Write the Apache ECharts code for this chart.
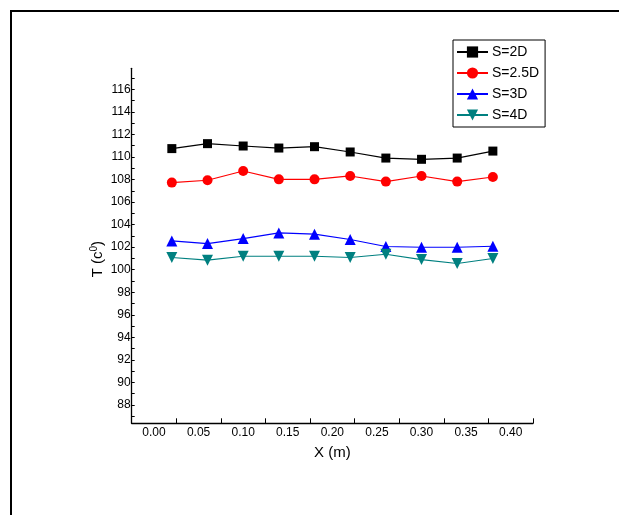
<!DOCTYPE html>
<html>
<head>
<meta charset="utf-8">
<script src="https://cdn.jsdelivr.net/npm/echarts@6/dist/echarts.min.js"></script>
<style>
  html, body { margin: 0; padding: 0; background: #fff; }
  #chart { width: 619px; height: 515px; }
</style>
</head>
<body>
<div id="chart"></div>
<script>
// distance along the pipe (m)
var xPos = [0.02, 0.06, 0.10, 0.14, 0.18, 0.22, 0.26, 0.30, 0.34, 0.38]
// temperature for each spacing
var s2D  = [110.77, 111.21, 111.00, 110.82, 110.94, 110.47, 109.93, 109.82, 109.93, 110.55]
var s25D = [107.75, 107.96, 108.78, 108.04, 108.04, 108.34, 107.84, 108.34, 107.84, 108.25]
var s3D  = [102.57, 102.34, 102.78, 103.28, 103.17, 102.70, 102.08, 102.01, 102.01, 102.10]
var s4D  = [101.10, 100.86, 101.21, 101.21, 101.21, 101.10, 101.39, 100.92, 100.57, 101.01]
var seriesNames = ['S=2D', 'S=2.5D', 'S=3D', 'S=4D']

function pairs(ys) {
    return xPos.map(function (x, i) { return [x, ys[i]] })
}

var font = 'Liberation Sans, Arial, sans-serif'
var chart = echarts.init(document.getElementById('chart'))

var option = {
    animation: false,
    backgroundColor: '#fff',
    graphic: [{
        type: 'rect',
        shape: { x: 11, y: 11, width: 700, height: 700 },
        style: { fill: 'none', stroke: '#000', lineWidth: 2 },
        silent: true
    }],
    legend: {
        left: 453, top: 40,
        orient: 'vertical',
        borderColor: '#000', borderWidth: 1,
        padding: [5, 6, 5, 3],
        itemWidth: 31, itemHeight: 14, itemGap: 7,
        textStyle: { fontFamily: font, fontSize: 14, color: '#000', padding: [0, 0, 0, -1] },
        data: seriesNames
    },
    grid: [
        { left: 131.7, right: 86, top: 68.3, bottom: 91.7 },
        // scale-matched grid used only for the y tick labels
        { left: 131.7, right: 86, top: 78.0, bottom: 98.7 }
    ],
    xAxis: [{
        type: 'value', gridIndex: 0, position: 'bottom',
        min: -0.025, max: 0.425, interval: 0.025,
        name: 'X (m)', nameLocation: 'middle', nameGap: 22,
        nameTextStyle: { fontFamily: font, fontSize: 15, color: '#000' },
        axisLine: { onZero: false, lineStyle: { color: '#000', width: 1.3 } },
        axisTick: { show: false },
        splitLine: { show: false },
        axisLabel: {
            margin: 3, fontFamily: font, fontSize: 12, color: '#000',
            showMinLabel: true, showMaxLabel: true,
            formatter: function (v) {
                var k = v / 0.05
                if (v < -1e-9 || v > 0.4 + 1e-9) return ''
                if (Math.abs(k - Math.round(k)) > 1e-6) return ''
                return v.toFixed(2)
            }
        }
    }, {
        type: 'value', gridIndex: 0, position: 'bottom',
        min: -0.025, max: 0.425, interval: 0.05,
        axisLine: { show: false, onZero: false },
        axisLabel: { show: false },
        splitLine: { show: false },
        axisTick: { inside: true, length: 5, lineStyle: { color: '#000', width: 1 } }
    }, {
        type: 'value', gridIndex: 1, show: false, min: -0.025, max: 0.425
    }],
    yAxis: [{
        type: 'value', gridIndex: 0, position: 'left',
        min: 86.38, max: 117.9,
        axisLine: { show: true, onZero: false, lineStyle: { color: '#000', width: 1.3 } },
        axisTick: { show: false },
        axisLabel: { show: false },
        splitLine: { show: false }
    }, {
        type: 'value', gridIndex: 1, position: 'left',
        min: 87, max: 117, interval: 1,
        name: '{a|T (c}{s|0}{a|)}', nameLocation: 'middle', nameGap: 26,
        nameMoveOverlap: false,
        nameTextStyle: {
            padding: [0, 24, 0, 0],
            rich: {
                a: { fontFamily: font, fontSize: 15, color: '#000' },
                s: { fontFamily: font, fontSize: 10, color: '#000', verticalAlign: 'top', padding: [0, 0, 6, 0] }
            }
        },
        axisLine: { show: false, onZero: false },
        splitLine: { show: false },
        axisTick: { inside: true, length: 3, lineStyle: { color: '#000', width: 1 } },
        axisLabel: {
            margin: 1, fontFamily: font, fontSize: 12, color: '#000',
            formatter: function (v) {
                var r = Math.round(v)
                return (r % 2 === 0) ? String(r) : ''
            }
        }
    }],
    series: [{
        name: 'S=2D', type: 'line', xAxisIndex: 0, yAxisIndex: 0,
        data: pairs(s2D),
        symbol: 'rect', symbolSize: 9,
        itemStyle: { color: '#000' }, lineStyle: { color: '#000', width: 1.2 }
    }, {
        name: 'S=2.5D', type: 'line', xAxisIndex: 0, yAxisIndex: 0,
        data: pairs(s25D),
        symbol: 'circle', symbolSize: 10,
        itemStyle: { color: '#ff0000' }, lineStyle: { color: '#ff0000', width: 1.2 }
    }, {
        name: 'S=3D', type: 'line', xAxisIndex: 0, yAxisIndex: 0,
        data: pairs(s3D),
        symbol: 'triangle', symbolSize: 11,
        itemStyle: { color: '#0000ff' }, lineStyle: { color: '#0000ff', width: 1.2 }
    }, {
        name: 'S=4D', type: 'line', xAxisIndex: 0, yAxisIndex: 0,
        data: pairs(s4D),
        symbol: 'triangle', symbolRotate: 180, symbolSize: 11,
        itemStyle: { color: '#008080' }, lineStyle: { color: '#008080', width: 1.2 }
    }]
}

chart.setOption(option)
</script>
</body>
</html>
